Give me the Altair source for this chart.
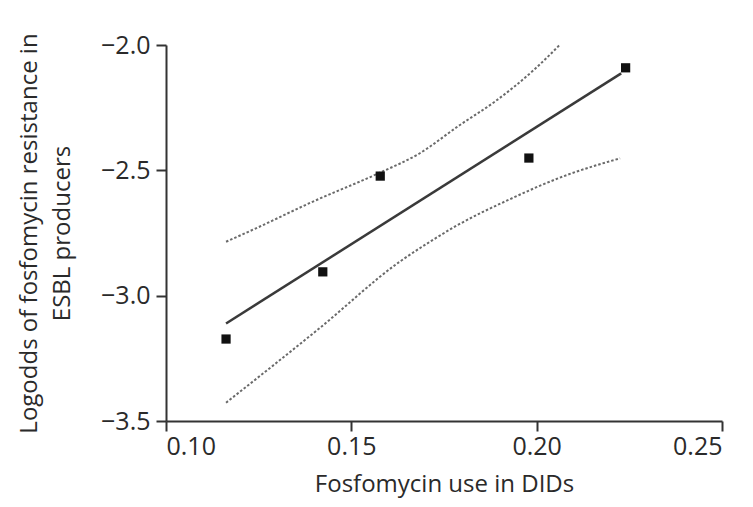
import altair as alt
import pandas as pd

# Observed points
use_x = [0.1162, 0.1423, 0.1578, 0.1979, 0.2240]
logodds_y = [-3.173, -2.905, -2.523, -2.451, -2.091]

# Fitted regression line
fit_x = [0.1162, 0.2228]
fit_y = [-3.111, -2.113]

# Upper confidence band
upper_x = [0.1162, 0.1252, 0.1387, 0.1576, 0.1681, 0.1793, 0.1888, 0.1992, 0.2062]
upper_y = [-2.785, -2.725, -2.631, -2.510, -2.435, -2.319, -2.225, -2.100, -2.000]

# Lower confidence band
lower_x = [0.1162, 0.1414, 0.1631, 0.1712, 0.1779, 0.1928, 0.2081, 0.2225]
lower_y = [-3.427, -3.130, -2.864, -2.785, -2.725, -2.615, -2.519, -2.452]

pts = pd.DataFrame({"x": use_x, "y": logodds_y})
fit = pd.DataFrame({"x": fit_x, "y": fit_y})
band = pd.concat([
    pd.DataFrame({"x": upper_x, "y": upper_y, "b": "upper"}),
    pd.DataFrame({"x": lower_x, "y": lower_y, "b": "lower"}),
])

FONT = "Open Sans"
xs = alt.Scale(domain=[0.10, 0.25], nice=False, zero=False)
ys = alt.Scale(domain=[-3.5, -2.0], nice=False, zero=False)

xaxis = alt.Axis(values=[0.10, 0.15, 0.20, 0.25], format=".2f", title="Fosfomycin use in DIDs",
                 grid=False, tickSize=10, labelPadding=3, titlePadding=13)
yaxis = alt.Axis(values=[-3.5, -3.0, -2.5, -2.0], format=".1f",
                 title=["Logodds of fosfomycin resistance in", "ESBL producers"],
                 grid=False, tickSize=10, labelPadding=6, titlePadding=26,
                 titleLineHeight=33)

base_x = alt.X("x:Q", scale=xs, axis=xaxis)
base_y = alt.Y("y:Q", scale=ys, axis=yaxis)

band_layer = alt.Chart(band).mark_line(color="#6a6a6a", strokeWidth=2, strokeDash=[2.5, 2],
                                       interpolate="monotone").encode(
    x=base_x, y=base_y, detail="b:N", order="x:Q")
fit_layer = alt.Chart(fit).mark_line(color="#3a3a3a", strokeWidth=2.5).encode(x=base_x, y=base_y)
pt_layer = alt.Chart(pts).mark_square(color="#111111", size=85, opacity=1).encode(x=base_x, y=base_y)

chart = alt.layer(band_layer, fit_layer, pt_layer).properties(
    width=556, height=376,
    autosize=alt.AutoSizeParams(type="none"),
    padding={"left": 158, "top": 37, "right": 23, "bottom": 78},
).configure_view(stroke=None).configure_axis(
    domainColor="#333333", domainWidth=2, tickColor="#333333", tickWidth=2,
    labelFont=FONT, labelFontSize=25, labelColor="#2a2a2a",
    titleFont=FONT, titleFontSize=24, titleColor="#2a2a2a", titleFontWeight="normal",
)

chart.save("out.html", embed_options={"renderer": "svg", "actions": False})
